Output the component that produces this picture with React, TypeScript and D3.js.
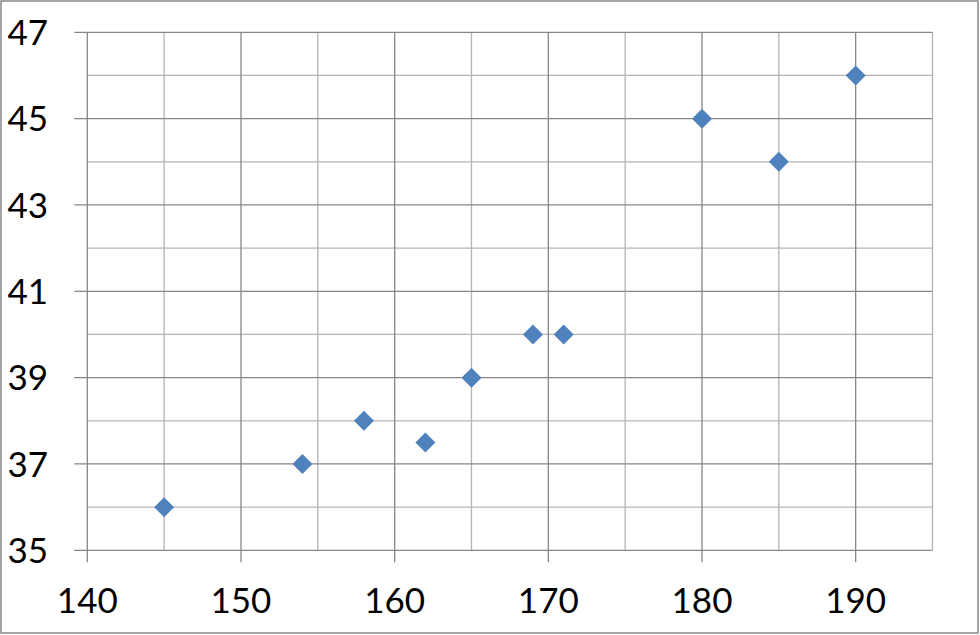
import React from "react";
import * as d3 from "d3";

const xValues = [145, 154, 158, 162, 165, 169, 171, 180, 185, 190];
const yValues = [36, 37, 38, 37.5, 39, 40, 40, 45, 44, 46];
const xMajorTicks = [140, 150, 160, 170, 180, 190];
const xMinorTicks = [145, 155, 165, 175, 185, 195];
const yMajorTicks = [35, 37, 39, 41, 43, 45, 47];
const yMinorTicks = [36, 38, 40, 42, 44, 46];

const W = 980;
const H = 635;
const left = 87.3;
const right = 932.5;
const top = 32.3;
const bottom = 550.3;

export default function App() {
  const x = d3.scaleLinear().domain([140, 195]).range([left, right]);
  const y = d3.scaleLinear().domain([35, 47]).range([bottom, top]);
  const major = "#868686";
  const minor = "#b4b4b4";
  const font = "Lato, 'Open Sans', sans-serif";
  const diamond = d3.symbol().type(d3.symbolSquare).size(200)();
  return (
    <svg
      width={W}
      height={H}
      style={{ position: "absolute", left: 0, top: 0, background: "#fff" }}
    >
      <rect x={1} y={1} width={W - 3} height={H - 3} fill="#fff" stroke={major} strokeWidth={1.5} />
      {yMinorTicks.map((t) => (
        <line key={"ym" + t} x1={left} x2={right} y1={y(t)} y2={y(t)} stroke={minor} strokeWidth={1.3} />
      ))}
      {xMinorTicks.map((t) => (
        <line key={"xm" + t} x1={x(t)} x2={x(t)} y1={top} y2={bottom} stroke={minor} strokeWidth={1.3} />
      ))}
      {yMajorTicks.map((t) => (
        <line key={"yM" + t} x1={left - 13} x2={right} y1={y(t)} y2={y(t)} stroke={major} strokeWidth={1.3} />
      ))}
      {xMajorTicks.map((t) => (
        <line key={"xM" + t} x1={x(t)} x2={x(t)} y1={top} y2={bottom + 12} stroke={major} strokeWidth={1.3} />
      ))}
      {yMajorTicks.map((t) => (
        <text
          key={"yl" + t}
          x={48}
          y={y(t)}
          dy="0.36em"
          textAnchor="end"
          fontFamily={font}
          fontSize={35}
          fill="#000"
        >
          {t}
        </text>
      ))}
      {xMajorTicks.map((t) => (
        <text
          key={"xl" + t}
          x={x(t)}
          y={613}
          textAnchor="middle"
          fontFamily={font}
          fontSize={35}
          fill="#000"
        >
          {t}
        </text>
      ))}
      {xValues.map((v, i) => (
        <path
          key={"p" + i}
          d={diamond || ""}
          transform={`translate(${x(v)},${y(yValues[i])}) rotate(45)`}
          fill="#4f81bd"
        />
      ))}
    </svg>
  );
}
